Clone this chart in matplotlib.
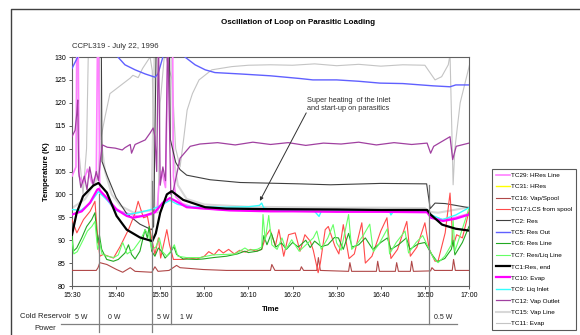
import matplotlib.pyplot as plt
from matplotlib.lines import Line2D

plt.rcParams['font.family'] = ['Liberation Sans', 'DejaVu Sans']

# time in minutes after 15:30, temperature in K (values above 130 are off scale)
tc29_t = [0, 0.9, 1.1, 1.4, 1.6, 2.5, 3.5, 4.5, 5.5, 5.8, 6.0, 6.3, 7.5, 9, 11, 15, 18, 19.3, 19.7, 20.4, 21.2, 21.8, 22.8, 23.0, 23.5, 25, 28, 35, 50, 65, 80.5, 81.5, 84, 87, 90]
tc29_v = [104, 106, 135, 135, 104, 102.5, 105.5, 102.5, 104, 135, 135, 100.5, 99.5, 97.5, 96.3, 95.2, 95.6, 96.8, 102, 105, 101.5, 135, 135, 104, 99.5, 98, 97, 96.6, 96.4, 96.3, 96.2, 95.2, 94.5, 95, 95.8]

tc31_t = [0, 90]
tc31_v = [140, 140]

tc16_t = [0, 5.5, 5.9, 6.3, 7.9, 10.1, 11.5, 13.2, 14.3, 18.1, 18.8, 19.5, 22, 23.7, 24.5, 29.7, 35, 40, 45, 45.3, 46, 51.7, 52.0, 52.5, 55.5, 55.85, 56.3, 62.7, 63.0, 63.4, 69.0, 69.3, 69.7, 73.3, 73.6, 74.0, 76.7, 77.0, 77.4, 81.3, 81.6, 82.2, 86.2, 86.5, 86.9, 90]
tc16_v = [83.4, 83.4, 84.0, 85.1, 84.7, 83.6, 83.0, 84.0, 83.2, 83.0, 84.2, 83.2, 83.4, 84.5, 84.0, 83.6, 83.4, 83.4, 83.4, 84.7, 83.4, 83.4, 84.2, 83.4, 83.4, 86.2, 83.4, 83.2, 85.1, 83.2, 83.2, 85.4, 83.2, 83.2, 85.1, 83.2, 83.2, 85.4, 83.2, 83.3, 84.0, 83.4, 83.4, 85.8, 83.4, 83.4]

tc17_t = [0, 1.1, 2.6, 4.1, 5.2, 5.8, 6.3, 7.1, 9.4, 10.9, 12.8, 14.3, 15.0, 15.6, 16.2, 17.1, 17.8, 18.8, 19.6, 20.1, 21.5, 22.1, 23.0, 25.2, 26.4, 28.3, 30, 31, 32.2, 33.3, 34.3, 35.5, 36.8, 38, 39.3, 40.5, 41.7, 43.0, 44.0, 44.9, 46.1, 46.9, 48, 49.1, 50.6, 51.7, 52.8, 54.0, 54.7, 55.8, 56.3, 57.4, 58.1, 59.6, 60.5, 61.5, 62.8, 64.0, 65.7, 66.5, 68, 70.0, 71.4, 72.3, 73.8, 75.9, 76.7, 78.2, 80.0, 81.0, 82.3, 83.0, 84.6, 85.7, 86.4, 87.2, 88.5, 90]
tc17_v = [94.5, 91.6, 94.5, 96.3, 98.5, 90.9, 86.5, 86.9, 86.1, 88.6, 92.3, 95.9, 98.5, 96.7, 94.9, 95.2, 91.6, 86.9, 90.5, 86.1, 92.3, 89.0, 85.8, 85.8, 86.1, 85.9, 86.5, 87.5, 86.8, 88.0, 87.2, 88.0, 87.0, 87.8, 87.4, 88.0, 87.6, 88.0, 91.0, 92.3, 88.7, 92.3, 86.5, 91.2, 91.6, 87.6, 91.2, 89.8, 87.8, 82.9, 85.0, 92.3, 93.0, 88.7, 87.0, 93.4, 86.0, 87.0, 93.8, 85.0, 86.5, 92.0, 94.9, 86.0, 88.0, 94.1, 86.5, 88.5, 93.8, 88.0, 85.4, 85.5, 91.6, 100.3, 88.7, 91.2, 90.5, 96.3]

tc2_t = [0, 6.6, 6.8, 8, 10, 12.4, 15.4, 18.0, 18.5, 19.2, 22.0, 22.3, 23.5, 24.5, 26, 31.3, 38.1, 51.7, 58.6, 70, 80.4, 81.2, 82.3, 84.6, 90]
tc2_v = [140, 140, 107.2, 104, 99.3, 95.8, 93.5, 92.3, 93, 140, 140, 112, 107, 105.4, 104.2, 103.2, 102.6, 102.3, 102.1, 102.4, 102.3, 96.9, 98.1, 98.0, 97.1]

tc5_t = [0, 1.3, 1.6, 10.2, 10.4, 12, 14.3, 16.6, 18.8, 19.5, 20.6, 20.9, 25.3, 25.6, 27.9, 30.2, 32.4, 38.1, 44.9, 51.7, 54.6, 60, 65, 69.8, 75, 81.9, 85.7, 87, 90]
tc5_v = [127.5, 130, 135, 135, 130, 128.3, 127.2, 126.3, 125.6, 126.3, 130, 135, 135, 130, 128.3, 127.2, 126.6, 126.3, 125.9, 125.3, 125.0, 125.0, 124.7, 124.3, 124.2, 123.7, 123.5, 123.9, 123.9]

tc6_t = [0, 0.3, 1.07, 2.2, 3.33, 4.47, 5.2, 5.83, 6.2, 6.73, 7.87, 9.37, 10.5, 12.0, 12.8, 13.5, 14.3, 15.4, 16.55, 17.07, 17.5, 18.07, 18.8, 19.57, 20.3, 21.1, 22.2, 23.1, 23.7, 25.2, 28.3, 29.7, 32, 35, 37.5, 39.2, 40, 42, 43, 43.5, 44.2, 45.2, 46.2, 47.5, 48.6, 50, 51.3, 53, 54, 55, 56.5, 58, 59.5, 60.4, 61.5, 62.7, 63.5, 65, 66.5, 68.2, 70, 71.5, 72.3, 74, 75.8, 76.6, 78.5, 80.0, 81.5, 82.8, 84.5, 86.0, 86.4, 86.8, 88.5, 90]
tc6_v = [91.6, 87.6, 88.3, 90.5, 93.0, 94.5, 96.0, 89.4, 91.2, 88.0, 85.8, 85.4, 85.8, 87.2, 89.0, 86.9, 85.9, 87.6, 92.3, 90.5, 93.0, 87.6, 86.5, 88.3, 87.6, 86.1, 87.2, 88.6, 86.9, 85.9, 85.8, 85.9, 86.2, 86.5, 87.0, 87.6, 87.3, 87.6, 88.0, 91.0, 89.0, 91.5, 88.5, 89.4, 88.0, 89.5, 88.5, 90.0, 88.4, 89.8, 88.6, 89.0, 90.6, 90.5, 88.0, 91.5, 88.5, 89.0, 90.5, 88.0, 89.5, 90.5, 88.0, 89.0, 90.5, 88.0, 89.2, 89.5, 87.0, 85.3, 86.0, 88.0, 90.0, 86.8, 89.5, 93.0]

tc7_t = [0, 0.4, 1.2, 2.5, 3.5, 4.5, 5.2, 5.8, 6.3, 6.8, 8, 9.5, 10.5, 11.5, 12.5, 14, 15.5, 16.6, 17.4, 18.1, 19, 19.8, 20.5, 21.5, 22.3, 23.2, 24, 26, 29, 32, 35, 37, 39.2, 40, 42, 43.0, 43.3, 43.8, 44.6, 45.3, 46.5, 47.6, 48.5, 49.8, 51.5, 52.5, 54.7, 55.5, 56.5, 58.0, 59.2, 60.0, 61.0, 62.7, 63.4, 64.5, 66.0, 67.5, 68.3, 69.5, 71.5, 72.0, 73.5, 75.5, 76.3, 78.0, 79.5, 80.5, 82.0, 83.0, 84.5, 86.0, 86.4, 86.8, 88.5, 90]
tc7_v = [90.0, 87.0, 87.5, 90.0, 92.0, 93.0, 94.1, 88.0, 89.5, 87.0, 86.5, 86.2, 86.8, 89.5, 87.0, 88.0, 90.0, 92.3, 91.0, 88.0, 88.5, 90.5, 87.5, 86.5, 87.5, 89.0, 86.5, 86.2, 86.2, 86.8, 86.9, 87.0, 88.3, 87.8, 88.0, 88.5, 95.6, 90.0, 95.4, 89.0, 88.0, 90.5, 88.0, 90.1, 87.6, 88.5, 90.5, 92.0, 88.0, 90.5, 93.4, 89.4, 87.8, 95.6, 88.0, 89.0, 91.0, 93.5, 87.5, 89.0, 92.5, 87.0, 89.5, 92.0, 87.2, 89.5, 91.0, 89.0, 86.0, 85.1, 86.5, 89.0, 94.5, 87.6, 92.5, 97.0]

tc1_t = [0, 1.07, 2.5, 4.8, 6.0, 7.9, 10.1, 12.4, 15.4, 18.2, 19.0, 20.0, 21.5, 22.6, 25.2, 28.3, 30.2, 35, 43, 60, 70, 80.5, 81.3, 83.9, 87, 90]
tc1_v = [91.2, 96.0, 99.6, 101.9, 102.5, 100.4, 95.3, 92.3, 90.6, 89.8, 91.5, 96.0, 100.0, 100.7, 98.8, 97.8, 97.2, 96.9, 96.8, 96.7, 96.6, 96.6, 95.6, 93.4, 92.5, 92.1]

tc10_t = [0, 2.2, 4.1, 5.7, 6.0, 7.9, 10.1, 12.4, 13.8, 16.6, 18.8, 20.6, 22.2, 23.6, 26.0, 35.8, 45, 50, 60, 70, 80.5, 81.4, 84.1, 87, 90]
tc10_v = [95.6, 96.3, 98.2, 101.0, 101.2, 99.2, 96.7, 95.3, 94.9, 95.4, 96.1, 98.2, 99.2, 98.5, 97.2, 96.5, 96.3, 96.3, 96.2, 96.2, 96.1, 94.9, 94.2, 94.7, 95.6]

tc9_t = [0, 2, 4, 6.0, 8, 10, 12.4, 15, 18, 20, 22.2, 24, 27, 35, 40, 42.5, 43.0, 43.5, 47, 55, 56.0, 56.5, 65, 72.0, 72.3, 73, 80.5, 81.5, 84, 87, 90]
tc9_v = [96.7, 96.5, 98.0, 100.6, 98.7, 96.5, 95.6, 96.0, 96.7, 97.5, 98.7, 97.8, 97.3, 97.2, 97.3, 97.6, 98.1, 97.0, 96.5, 96.3, 95.2, 96.3, 96.4, 96.3, 95.5, 96.5, 96.3, 95.5, 94.5, 95.5, 97.1]

tc12_t = [0, 0.7, 1.1, 1.3, 1.5, 2, 2.8, 3.4, 4.0, 4.8, 5.5, 6.0, 6.5, 6.9, 8, 9.8, 11.4, 12.0, 13.2, 13.5, 14.3, 16.6, 17.7, 18.4, 18.8, 19.2, 19.6, 20.0, 20.6, 21.2, 21.7, 22.4, 23, 24.5, 26.8, 29.0, 33, 37, 41, 45, 49, 53, 57, 61, 65, 69, 73, 77, 80.5, 81.3, 82, 85.7, 86.3, 87.1, 90]
tc12_v = [112.6, 114.0, 117.8, 120.6, 105, 101.5, 104, 101, 106, 102, 105, 103, 108, 110.8, 110.3, 110.1, 109.7, 110.2, 110.9, 109.0, 110.9, 111.9, 113.4, 114.5, 112.6, 105, 135, 102, 106, 103, 135, 100, 101, 107.9, 110.5, 111.0, 111.3, 110.8, 111.4, 110.9, 111.3, 110.7, 111.2, 111.0, 111.4, 110.8, 111.3, 110.9, 111.2, 109.0, 110.5, 112.6, 107.6, 110.5, 111.2]

tc15_t = [0, 3, 6, 6.5, 7.5, 9, 11, 14, 18, 18.8, 19.5, 22.5, 23, 24, 26, 30, 40, 50, 60, 70, 80, 81, 83, 86, 90]
tc15_v = [97.0, 99.0, 104.0, 112.0, 105.0, 100.0, 97.5, 96.0, 96.5, 135, 135, 135, 108, 102, 99, 97.8, 97.3, 97.2, 97.1, 97.1, 97.0, 96.2, 96.0, 96.5, 97.2]

tc11_t = [0, 1.3, 1.5, 2.5, 3.3, 3.7, 6.2, 6.5, 7.5, 8.6, 13.2, 13.8, 15.0, 16.0, 17.7, 18.2, 18.8, 19.5, 20, 21, 22.7, 23.5, 24.5, 25.3, 26.1, 27.3, 28.8, 31.7, 36.2, 40, 45, 50, 55, 60, 65, 70, 75, 80, 82.3, 83.8, 85.3, 85.7, 86.4, 86.8, 88, 90.2]
tc11_v = [135, 131, 110, 100, 110, 131, 131, 112, 117, 122, 125.4, 126, 125.5, 127.5, 130, 127, 96, 96, 120, 131, 125, 110, 106, 112, 118.4, 122, 125, 127.2, 127.9, 128.2, 128.3, 128.2, 128.5, 128.1, 128.4, 128.0, 128.3, 128.2, 125.0, 125.7, 128.3, 130.5, 102.1, 110, 120, 128.6]

x_ticks = [0, 10, 20, 30, 40, 50, 60, 70, 80, 90]
x_labels = ["15:30", "15:40", "15:50", "16:00", "16:10", "16:20", "16:30", "16:40", "16:50", "17:00"]
y_ticks = [80, 85, 90, 95, 100, 105, 110, 115, 120, 125, 130]

# power changes (minutes after 15:30) and power levels
event_t = [6.1, 18.2, 22.5, 81.0]
power_t = [0.7, 8.2, 19.2, 24.5, 82.1]
power_labels = ["5 W", "0 W", "5 W", "1 W", "0.5 W"]

series = [
    ("TC29: HRes Line", tc29_t, tc29_v, "#FF80FF", 1.2, 3),
    ("TC31: HRes", tc31_t, tc31_v, "#FFFF00", 1.0, 2),
    ("TC16: Vap/Spool", tc16_t, tc16_v, "#B04848", 0.8, 4),
    ("TC17:LCS from spool", tc17_t, tc17_v, "#FF4A4A", 0.8, 4),
    ("TC2: Res", tc2_t, tc2_v, "#404040", 0.8, 3),
    ("TC5: Res Out", tc5_t, tc5_v, "#6060FF", 1.0, 3),
    ("TC6: Res Line", tc6_t, tc6_v, "#22A822", 0.8, 4),
    ("TC7: Res/Liq Line", tc7_t, tc7_v, "#66FF66", 0.8, 4),
    ("TC1:Res, end", tc1_t, tc1_v, "black", 1.6, 6),
    ("TC10: Evap", tc10_t, tc10_v, "#FF00FF", 1.6, 5),
    ("TC9: Liq Inlet", tc9_t, tc9_v, "#33FFFF", 1.0, 4),
    ("TC12: Vap Outlet", tc12_t, tc12_v, "#A040A0", 0.9, 3),
    ("TC15: Vap Line", tc15_t, tc15_v, "#D8D8D8", 1.5, 2),
    ("TC11: Evap", tc11_t, tc11_v, "#C4C4C4", 0.8, 2),
]

W, H = 580, 335


def fx(x):
    return x / W


def fy(y):
    return 1 - y / H


fig = plt.figure(figsize=(5.8, 3.35), dpi=100)
ax = fig.add_axes([fx(72), fy(286), fx(469) - fx(72), fy(57) - fy(286)])

for name, t, v, c, lw, z in series:
    ax.plot(t, v, color=c, lw=lw, zorder=z, label=name)

ax.set_xlim(0, 90)
ax.set_ylim(80, 130)
ax.set_xticks(x_ticks)
ax.set_xticklabels(x_labels)
ax.set_yticks(y_ticks)
ax.tick_params(labelsize=5, length=2.5, width=0.6, pad=2, color="#404040")
for s in ax.spines.values():
    s.set_color("#606060")
    s.set_linewidth(0.8)

ax.set_xlabel("Time", fontsize=5.5, fontweight="bold", labelpad=5)
ax.set_ylabel("Temperature (K)", fontsize=5.5, fontweight="bold", labelpad=3)

# event lines down into the power strip
for i, t in enumerate(event_t):
    top = [100, 103, 100, 102][i]
    bottom = 69.9 if i < 2 else 71.6
    ax.plot([t, t], [top, bottom], color="#808080", lw=0.9, clip_on=False, zorder=7)

ax.annotate("", xy=(42.6, 98.6), xytext=(53.1, 117.8),
            arrowprops=dict(arrowstyle="-|>", color="#303030", lw=0.7,
                            mutation_scale=5, shrinkA=0, shrinkB=0), zorder=8)
ax.text(53.2, 117.9, "Super heating  of the Inlet\nand start-up on parasitics",
        fontsize=5.3, color="#303030", va="bottom", ha="left", linespacing=1.35, zorder=8)

fig.text(fx(298), fy(23), "Oscillation of Loop on Parasitic Loading", fontsize=5.8,
         fontweight="bold", ha="center", va="center")
fig.text(fx(72), fy(47), "CCPL319 - July 22, 1996", fontsize=5.6, color="#303030",
         ha="left", va="center")

fig.text(fx(45.5), fy(316.7), "Cold Reservoir", fontsize=5.5, ha="center", va="center", color="#202020")
fig.text(fx(45.5), fy(328), "Power", fontsize=5.5, ha="center", va="center", color="#202020")
for t, lab in zip(power_t, power_labels):
    ax.text(t, 73.2, lab, fontsize=5, ha="left", va="center", color="#202020", clip_on=False)
fig.add_artist(Line2D([fx(61), fx(457)], [fy(324.3), fy(324.3)], color="#808080", lw=0.9))

# outer chart border
fig.add_artist(Line2D([fx(11), fx(11), fx(580)], [fy(335), fy(9), fy(9)], color="#404040", lw=1.0))

leg = ax.legend(loc="upper left", bbox_to_anchor=(fx(492), fy(169)), bbox_transform=fig.transFigure,
                fontsize=4.6, frameon=True, fancybox=False, edgecolor="#303030",
                borderaxespad=0, borderpad=0.55, labelspacing=0.93, handlelength=2.3,
                handletextpad=0.2)
leg.get_frame().set_linewidth(0.8)

fig.savefig("out.png", dpi=100)
